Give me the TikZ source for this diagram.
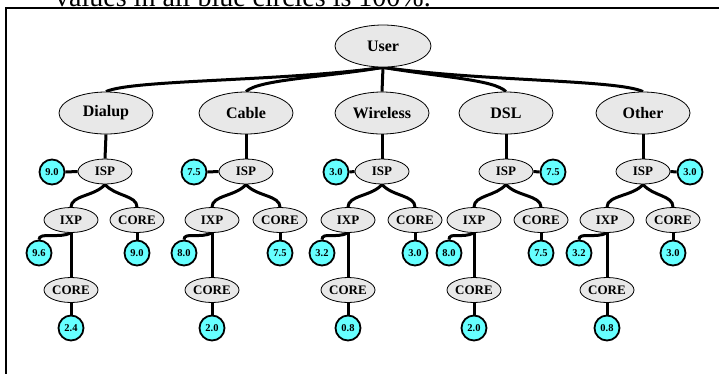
\documentclass[tikz,border=0pt]{standalone}
\usepackage{fontspec}
\setmainfont{Liberation Serif}
\usetikzlibrary{shapes.geometric,backgrounds}
\definecolor{vcyan}{HTML}{66FFFF}
\definecolor{egray}{HTML}{E8E8E8}
\begin{document}
\begin{tikzpicture}[x=1pt,y=-1pt,
  big/.style={ellipse, draw, line width=0.8pt, fill=egray, minimum width=94pt, minimum height=42pt, inner sep=0pt, font=\bfseries\fontsize{16}{16}\selectfont},
  mid/.style={ellipse, draw, line width=0.8pt, fill=egray, minimum width=54pt, minimum height=25pt, inner sep=0pt, font=\bfseries\fontsize{13}{13}\selectfont},
  val/.style={circle, draw, line width=1.8pt, fill=vcyan, minimum size=25pt, inner sep=0pt, font=\bfseries\fontsize{10.5}{10.5}\selectfont},
  conn/.style={line width=3pt},
]
\useasboundingbox (0,0) rectangle (719,373);
\clip (0,0) rectangle (719,373);
\node[anchor=base west, inner sep=0pt, font=\fontsize{28}{28}\selectfont] (hdr) at (55,6) {values in all blue circles is 100\%.};
\draw[line width=2.5pt] (6,400) -- (6,8) -- (730,8);

% top level
\node[big, minimum width=96pt] (user) at (383,46) {User};
\node[big] (l1) at (106,113) {Dialup};
\node[big] (l2) at (246,113) {Cable};
\node[big] (l3) at (382,113) {Wireless};
\node[big] (l4) at (506,113) {DSL};
\node[big] (l5) at (643,113) {Other};

% ISP row
\node[mid] (isp1) at (105,171.5) {ISP};
\node[mid] (isp2) at (246,171.5) {ISP};
\node[mid] (isp3) at (382,171.5) {ISP};
\node[mid] (isp4) at (506,171.5) {ISP};
\node[mid] (isp5) at (643,171.5) {ISP};
\node[val] (s1) at (52,172) {9.0};
\node[val] (s2) at (194,172) {7.5};
\node[val] (s3) at (336,172) {3.0};
\node[val] (s4) at (553,172) {7.5};
\node[val] (s5) at (690,172) {3.0};

% IXP / CORE row
\node[mid] (ixp1) at (71,220) {IXP};
\node[mid] (core1) at (137,220) {CORE};
\node[mid] (ixp2) at (212,220) {IXP};
\node[mid] (core2) at (280,220) {CORE};
\node[mid] (ixp3) at (348,220) {IXP};
\node[mid] (core3) at (415,220) {CORE};
\node[mid] (ixp4) at (474,220) {IXP};
\node[mid] (core4) at (541,220) {CORE};
\node[mid] (ixp5) at (607,220) {IXP};
\node[mid] (core5) at (673,220) {CORE};

% circles under IXP / CORE
\node[val] (a1) at (39,253) {9.6};
\node[val] (b1) at (137,253) {9.0};
\node[val] (a2) at (184,253) {8.0};
\node[val] (b2) at (280,253) {7.5};
\node[val] (a3) at (322,253) {3.2};
\node[val] (b3) at (415,253) {3.0};
\node[val] (a4) at (449,253) {8.0};
\node[val] (b4) at (541,253) {7.5};
\node[val] (a5) at (579,253) {3.2};
\node[val] (b5) at (673,253) {3.0};

% lower CORE
\node[mid] (lc1) at (71,290) {CORE};
\node[mid] (lc2) at (212,290) {CORE};
\node[mid] (lc3) at (348,290) {CORE};
\node[mid] (lc4) at (474,290) {CORE};
\node[mid] (lc5) at (607,290) {CORE};
\node[val] (c1) at (71,328) {2.4};
\node[val] (c2) at (212,328) {2.0};
\node[val] (c3) at (348,328) {0.8};
\node[val] (c4) at (474,328) {2.0};
\node[val] (c5) at (607,328) {0.8};

\begin{pgfonlayer}{background}
\draw[conn] (user.south) .. controls +(-100,14) and +(25,-12) .. (l1.north);
\draw[conn] (user.south) .. controls +(-60,10) and +(12,-12) .. (l2.north);
\draw[conn] (user.south) -- (l3.north);
\draw[conn] (user.south) .. controls +(60,10) and +(-12,-12) .. (l4.north);
\draw[conn] (user.south) .. controls +(100,14) and +(-25,-12) .. (l5.north);
\foreach \i in {1,...,5}{
  \draw[conn] (l\i.south) -- (isp\i.north);
  \draw[conn] (isp\i.south) .. controls +(-10,12) and +(0,-12) .. (ixp\i.north);
  \draw[conn] (isp\i.south) .. controls +(10,12) and +(0,-12) .. (core\i.north);
  \draw[conn] (core\i.south) -- (b\i.north);
  \draw[conn] (ixp\i.south) -- (lc\i.north);
  \draw[conn] (ixp\i.south) .. controls +(-12,6) and +(0,-8) .. (a\i.north);
  \draw[conn] (lc\i.south) -- (c\i.north);
}
\foreach \i in {1,2,3}{\draw[conn] (isp\i.west) -- (s\i.east);}
\foreach \i in {4,5}{\draw[conn] (isp\i.east) -- (s\i.west);}
\end{pgfonlayer}
\end{tikzpicture}
\end{document}
